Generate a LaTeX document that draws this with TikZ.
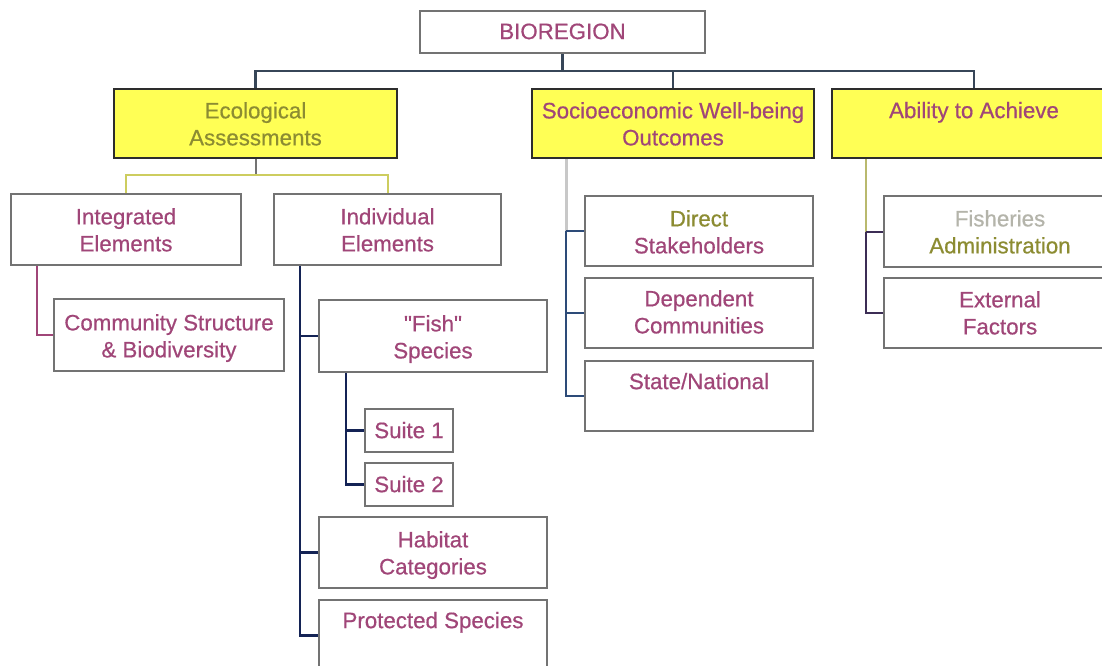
\documentclass[tikz,border=0pt]{standalone}
\usepackage{fontspec}
\setmainfont{Liberation Sans}
\newfontfamily\chartfont{Liberation Sans}[FakeBold=0.6]
\definecolor{mauve}{RGB}{160,70,120}
\definecolor{olivetext}{RGB}{140,140,50}
\definecolor{palegrey}{RGB}{180,180,170}
\definecolor{hiyellow}{RGB}{255,255,85}
\definecolor{boxgrey}{RGB}{115,115,115}
\definecolor{darkedge}{RGB}{45,45,45}
\definecolor{busslate}{RGB}{55,70,88}
\definecolor{deepnavy}{RGB}{20,35,85}
\definecolor{midnavy}{RGB}{45,75,120}
\definecolor{stemyellow}{RGB}{205,205,95}
\definecolor{stemgrey}{RGB}{200,200,200}
\definecolor{stemolive}{RGB}{185,185,110}
\definecolor{plumnavy}{RGB}{60,45,85}
\begin{document}
\begin{tikzpicture}[x=1pt,y=-1pt,
  box/.style={draw=boxgrey,line width=2pt,fill=white,rectangle,inner sep=0pt,anchor=north west},
  headbox/.style={draw=darkedge,line width=2pt,fill=hiyellow,rectangle,inner sep=0pt,anchor=north west},
  label/.style={anchor=north,inner sep=0pt,align=center,text=mauve,
    font=\chartfont\fontsize{22.3}{27}\selectfont,execute at begin node=\strut},
  bus/.style={draw=busslate,line width=2.5pt},
  navyline/.style={draw=deepnavy,line width=2.5pt},
  socline/.style={draw=midnavy,line width=2pt},
]
\useasboundingbox (0,0) rectangle (1102,665);
\clip (0,0) rectangle (1102,665);

% top level
\node[box,minimum width=285pt,minimum height=42pt] (bio) at (419,10) {};
\node[label] at ([yshift=-10pt]bio.north) {BIOREGION};

% three yellow headings
\node[headbox,minimum width=283pt,minimum height=69pt] (eco) at (113,88) {};
\node[label,text=olivetext] at ([yshift=-14pt]eco.north) {Ecological\\Assessments};
\node[headbox,minimum width=282pt,minimum height=69pt] (soc) at (531,88) {};
\node[label] at ([yshift=-14pt]soc.north) {Socioeconomic Well-being\\Outcomes};
\node[headbox,minimum width=284pt,minimum height=69pt] (abl) at (831,88) {};
\node[label] at ([yshift=-11pt]abl.north) {Ability to Achieve};

% ecological branch
\node[box,minimum width=230pt,minimum height=71pt] (int) at (10,193) {};
\node[label] at ([yshift=-15pt]int.north) {Integrated\\Elements};
\node[box,minimum width=227pt,minimum height=71pt] (ind) at (273,193) {};
\node[label] at ([yshift=-15pt]ind.north) {Individual\\Elements};
\node[box,minimum width=230pt,minimum height=72pt] (com) at (53,298) {};
\node[label] at ([yshift=-16pt]com.north) {Community Structure\\\& Biodiversity};
\node[box,minimum width=228pt,minimum height=72pt] (fish) at (318,299) {};
\node[label] at ([yshift=-16pt]fish.north) {\symbol{"22}Fish\symbol{"22}\\Species};
\node[box,minimum width=88pt,minimum height=43pt] (s1) at (364,408) {};
\node[label] at ([yshift=-11pt]s1.north) {Suite 1};
\node[box,minimum width=88pt,minimum height=43pt] (s2) at (364,462) {};
\node[label] at ([yshift=-11pt]s2.north) {Suite 2};
\node[box,minimum width=228pt,minimum height=71pt] (hab) at (318,516) {};
\node[label] at ([yshift=-15pt]hab.north) {Habitat\\Categories};
\node[box,minimum width=228pt,minimum height=71pt] (pro) at (318,599) {};
\node[label] at ([yshift=-10pt]pro.north) {Protected Species};

% socioeconomic branch
\node[box,minimum width=228pt,minimum height=70pt] (dir) at (584,195) {};
\node[label] at ([yshift=-15pt]dir.north) {\textcolor{olivetext}{Direct}\\Stakeholders};
\node[box,minimum width=228pt,minimum height=70pt] (dep) at (584,277) {};
\node[label] at ([yshift=-13pt]dep.north) {Dependent\\Communities};
\node[box,minimum width=228pt,minimum height=70pt] (sta) at (584,360) {};
\node[label] at ([yshift=-10pt]sta.north) {State/National};

% ability branch
\node[box,minimum width=232pt,minimum height=71pt] (fad) at (883,195) {};
\node[label,text=olivetext] at ([yshift=-15pt]fad.north) {\textcolor{palegrey}{Fisheries}\\Administration};
\node[box,minimum width=232pt,minimum height=70pt] (ext) at (883,277) {};
\node[label] at ([yshift=-14pt]ext.north) {External\\Factors};

% connectors from the top box
\draw[draw=busslate,line width=3.5pt] (bio.south) -- ++(0,17) coordinate (busmid);
\draw[bus] (busmid) -| (eco.north);
\draw[bus] (busmid) -| (soc.north);
\draw[bus] (busmid) -| (abl.north);

% ecological sub-tree
\draw[draw=boxgrey,line width=2pt] (eco.south) -- ++(0,16) coordinate (ecojoin);
\draw[draw=stemyellow,line width=2pt] (ecojoin) -| (int.north);
\draw[draw=stemyellow,line width=2pt] (ecojoin) -| (ind.north);
\draw[draw=mauve,line width=2pt] ([xshift=27pt]int.south west) |- (com.west);
\coordinate (indstem) at ([xshift=27pt]ind.south west);
\draw[navyline] (indstem) |- (fish.west);
\draw[navyline] (indstem) |- (hab.west);
\draw[navyline] (indstem) |- (pro.west);
\coordinate (fishstem) at ([xshift=28pt]fish.south west);
\draw[navyline] (fishstem) |- (s1.west);
\draw[navyline] (fishstem) |- (s2.west);

% socioeconomic sub-tree
\coordinate (socstem) at ([xshift=35pt]soc.south west);
\draw[draw=stemgrey,line width=3pt] (socstem) -- (socstem |- dir.west);
\draw[socline] (socstem |- dir.west) -- (dir.west);
\draw[socline] (socstem |- dir.west) |- (dep.west);
\draw[socline] (socstem |- dir.west) |- (sta.west);

% ability sub-tree
\coordinate (ablstem) at ([xshift=35pt]abl.south west);
\draw[draw=stemolive,line width=1.5pt] (ablstem) -- (ablstem |- fad.west);
\draw[draw=plumnavy,line width=2pt] (ablstem |- fad.west) -- (fad.west);
\draw[draw=plumnavy,line width=2pt] (ablstem |- fad.west) |- (ext.west);
\end{tikzpicture}
\end{document}
